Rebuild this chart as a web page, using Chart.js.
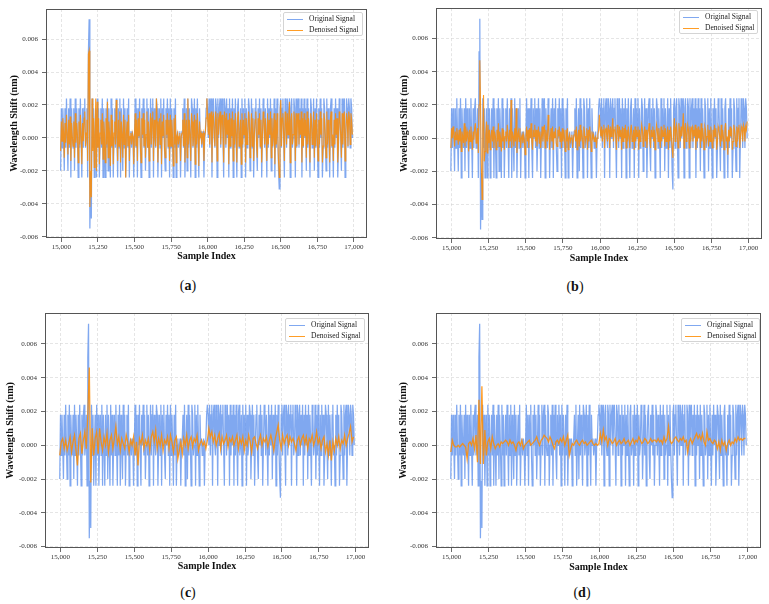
<!DOCTYPE html>
<html><head><meta charset="utf-8">
<script src="https://cdn.jsdelivr.net/npm/chart.js@4/dist/chart.umd.min.js"></script>
<style>
body{margin:0;background:#fff;width:769px;height:604px;position:relative;overflow:hidden;font-family:"Liberation Serif","DejaVu Serif",serif}
canvas{position:absolute}
.legend{position:absolute;box-sizing:border-box;background:rgba(255,255,255,0.85);border:1px solid #d4d4d4;border-radius:2px;font-size:7.5px;color:#222;padding:0 3px;line-height:11px;white-space:nowrap}
.legend .sw{display:inline-block;width:16px;height:0;border-top:1.2px solid;vertical-align:middle;margin-right:6px}
.cap{position:absolute;font-size:14px;line-height:16px;transform:translateX(-50%);color:#111}
</style></head><body>
<script>
// ---- data (values in units of 1e-4 nm) ----
const sampleStart = 14995;
const fineStep = 5;
const coarseStep = 10;
const seriesNames = ['Original Signal', 'Denoised Signal'];
const panelLabels = ['a', 'b', 'c', 'd'];
const xTickValues = [15000, 15250, 15500, 15750, 16000, 16250, 16500, 16750, 17000];
const yTickValues = [-0.006, -0.004, -0.002, 0, 0.002, 0.004, 0.006];

const originalSignal = [
-20,18,-6,18,0,-20,18,-6,24,0,-20,18,-6,24,-24,18,0,-6,18,-20,24,-6,18,0,-24,
18,-6,24,0,-24,18,-6,18,24,-6,0,18,-24,52,72,-55,-21,-49,24,-6,18,-24,0,18,-24,
24,-6,18,-24,0,18,-6,24,-24,18,0,-24,18,-6,24,-20,18,0,-24,24,-6,18,-24,0,18,
-6,24,0,-24,18,-6,24,-24,18,0,-20,24,-6,18,-24,0,18,-6,24,-24,0,4,-6,4,0,
-24,0,24,-6,18,-24,18,0,24,-6,-24,18,0,24,-6,18,-20,0,24,-6,18,-24,0,24,-6,
18,24,-24,18,0,-6,24,18,-24,0,18,-6,24,-24,18,0,24,-6,-20,18,0,24,-6,18,-24,
24,-6,18,0,-24,18,-6,24,-24,0,4,-6,0,4,-24,0,4,18,-6,24,-24,0,18,-20,24,
-6,18,0,-24,24,18,-6,0,24,-24,18,-6,24,0,-24,18,0,4,-6,0,4,-24,0,4,18,
24,18,0,24,-6,18,24,-24,18,24,0,-6,24,18,-24,24,0,18,24,-6,18,24,0,-24,24,
18,-6,24,0,18,-24,24,-6,18,0,24,-24,18,-6,24,0,-24,18,24,-6,0,18,-24,24,-6,
18,0,24,-24,18,-6,0,24,18,-20,0,24,-6,18,-24,0,18,24,-6,-20,18,0,24,-6,18,
-24,0,24,18,-6,18,0,-24,24,-6,18,0,24,-20,18,-6,0,24,-24,18,-6,24,0,-20,-31,
18,24,-6,18,24,0,-24,24,18,-6,24,0,18,24,-24,18,24,-6,0,24,18,-24,24,-6,18,
24,-6,18,0,24,-24,18,-6,24,0,18,-20,24,-6,18,0,-24,24,18,-6,0,24,-20,18,-6,
24,0,-24,18,-6,24,0,18,-24,-6,24,18,0,-20,24,-6,18,0,-24,18,24,-6,0,-24,18,
-6,24,0,18,-24,-6,24,18,0,-20,24,-6,18,24,-24,0,24,18,-6,24,18,-6,24,18,0
];

const denoisedA = [
-8,10,-2,12,4,-12,9,-3,14,2,-10,11,-4,13,-14,9,1,-5,10,-12,15,-3,9,2,-15,
10,-4,14,1,-16,9,-2,12,16,-5,3,11,-14,51,53,-42,-20,-36,24,-8,12,-18,2,24,-20,
22,-6,12,-16,3,11,-4,15,-13,10,2,-15,12,-4,22,-12,10,1,-17,14,-5,11,-16,3,10,
-4,23,2,-14,11,-5,16,-15,10,2,-12,14,-4,11,-24,3,10,-5,14,-14,1,3,-4,3,1,
-16,2,15,-5,11,-14,12,1,16,-4,-15,12,2,15,-5,11,-12,2,16,-6,10,-14,3,15,-4,
12,16,-14,11,2,-5,24,10,-15,2,12,-4,15,-16,10,1,14,-6,-12,11,2,15,-5,11,-14,
14,-5,11,1,-17,12,-4,14,-15,1,3,-4,1,3,-14,1,3,11,-5,15,-15,2,11,-12,24,
-4,11,2,-14,15,10,-5,2,14,-16,11,-4,15,2,-17,10,1,3,-4,1,3,-14,1,4,12,
24,12,2,15,-4,11,16,-15,12,14,2,-5,16,11,-14,15,2,12,16,-4,11,14,2,-15,16,
12,-4,15,2,11,-16,15,-5,12,1,16,-14,11,-4,15,2,-15,12,16,-5,1,11,-16,15,-4,
11,2,15,-15,12,-4,1,16,11,-12,2,15,-5,12,-14,2,11,16,-4,-12,12,2,15,-5,11,
-15,2,16,11,-4,12,1,-14,15,-4,11,2,16,-12,12,-5,1,15,-16,11,-4,15,2,-14,-24,
11,23,-5,12,15,2,-14,16,11,-4,15,2,12,22,-15,11,15,-4,2,16,11,-14,15,-5,12,
15,-4,11,2,16,-15,12,-5,15,1,11,-12,16,-4,12,2,-15,15,11,-4,2,16,-12,11,-5,
15,2,-14,11,-4,16,2,12,-15,-5,15,11,2,-12,16,-4,11,2,-15,12,16,-5,2,-14,11,
-4,15,2,12,-15,-4,16,11,2,-12,15,-4,12,16,-14,2,15,11,-5,16,12,-4,15,11,2
];

const denoisedB = [
-6,6,0,7,2,-5,4,-1,6,2,-4,5,-2,6,-8,4,1,-3,9,-5,7,-2,4,1,-8,
5,-2,7,0,-7,4,-1,6,9,-3,2,6,-9,20,47,20,-15,-37,5,26,-14,-8,2,10,-9,
8,-3,5,-7,1,5,-2,7,-6,4,1,-7,5,-2,9,-5,4,0,-8,6,-2,5,-7,1,4,
-2,8,1,-6,5,-2,23,-6,4,1,-5,6,-2,18,-9,1,4,-2,6,-6,0,2,-3,2,-1,
-10,1,7,-2,5,-6,6,0,9,-2,-7,5,1,8,-2,5,-5,1,7,-3,4,-6,1,7,-2,
5,8,-6,5,1,-2,14,4,-7,1,6,-2,7,-7,4,0,6,-3,-5,5,1,7,-2,4,-6,
6,-2,5,0,-8,5,-2,6,-7,0,2,-2,0,2,-6,0,2,5,-2,7,-7,1,5,-5,8,
-2,5,1,-6,7,4,-2,1,6,-7,5,-2,7,1,-8,4,0,2,-2,0,1,-6,0,2,5,
14,5,1,7,-2,5,8,-6,5,6,1,-2,8,5,-6,7,1,5,12,-2,5,7,1,-7,8,
5,-2,7,1,5,-7,7,-2,6,0,8,-6,5,-2,7,1,-6,5,8,-2,0,5,-7,7,-2,
5,1,7,-7,5,-2,0,8,5,-5,1,7,-2,5,-6,1,5,9,-2,-6,5,1,7,-2,5,
-7,1,8,5,-2,6,0,-6,7,-2,5,1,8,-5,6,-2,0,7,-7,5,-2,7,1,-6,-12,
5,12,-2,6,8,1,-6,9,5,-2,7,1,6,15,-6,5,9,-2,1,8,5,-6,7,-2,6,
7,-2,5,1,8,-7,6,-2,7,0,5,-6,9,-2,6,1,-7,7,5,-2,1,8,-5,5,-2,
7,1,-6,5,-2,8,1,6,-7,-2,7,5,1,-5,8,-2,5,1,-7,6,9,-2,1,-10,5,
-2,7,1,6,-7,-2,8,5,1,-5,7,-2,6,8,-6,1,7,5,-2,8,6,-2,7,5,10
];

const denoisedC = [
-6,2,4,-2,3,-3,1,5,-4,2,6,-3,-12,4,7,-5,3,8,-2,18,
46,-22,10,-6,4,8,-5,10,2,-3,5,0,7,-4,3,6,-2,4,11,1,
5,-3,4,1,-2,6,2,-4,3,0,5,-6,2,-12,4,1,6,-2,3,0,
4,-3,5,8,2,9,-2,4,0,6,-3,3,1,5,-2,6,2,-4,3,5,
-8,-3,2,-5,4,0,6,-2,3,5,-1,4,2,6,-3,1,3,0,2,-2,
3,10,5,8,2,6,0,4,7,-2,5,1,3,6,-1,4,2,5,0,3,
6,-2,4,1,5,-3,3,0,6,2,-4,4,5,1,-2,3,6,0,4,2,
5,-1,3,6,2,-3,4,8,12,3,-2,6,1,4,6,0,5,2,4,1,
-3,3,5,0,4,6,1,5,-2,4,2,6,0,3,8,1,4,-2,3,5,
-4,1,-6,3,-9,2,-3,4,0,5,-2,3,1,6,0,4,7,11,2,5
];

const denoisedD = [
-4,3,0,-1,-1,0,-1,0,1,0,-1,-8,1,2,0,4,-2,6,-10,27,
-11,35,-11,9,-6,2,4,-2,5,1,-2,0,1,-1,2,1,2,3,2,0,
3,1,2,0,-3,1,2,0,3,-2,0,1,2,3,0,1,2,3,5,2,
0,3,4,6,5,4,2,5,3,0,-2,2,3,1,4,2,5,0,3,6,
-6,-2,1,0,2,3,1,0,2,3,1,2,0,1,2,3,1,0,1,0,
1,7,2,9,3,5,0,4,3,1,2,4,0,2,3,1,2,4,1,2,
3,0,2,4,1,3,2,5,3,1,2,4,3,1,2,4,2,3,3,2,
4,2,3,1,5,2,4,11,3,1,2,4,5,3,2,4,3,5,2,3,
-4,2,4,1,3,5,7,4,6,3,7,2,0,8,3,4,2,1,3,2,
-2,2,-3,3,0,2,-3,1,3,0,2,1,4,2,5,3,4,3,4,4
];

const denoisedSeries = [
  {values: denoisedA, step: fineStep},
  {values: denoisedB, step: fineStep},
  {values: denoisedC, step: coarseStep},
  {values: denoisedD, step: coarseStep}
];

// ---- layout (page pixels) ----
const panels = [
  {cx:0,   cy:0,   cw:384, ch:266, L:46,  R:367, T:9,   B:238, titleX:14,  leg:{x:283,y:12,w:80,h:24}, cap:{x:188,y:278}},
  {cx:384, cy:0,   cw:385, ch:268, L:436, R:762, T:6,   B:239, titleX:404, leg:{x:679,y:10,w:79,h:24}, cap:{x:575,y:279}},
  {cx:0,   cy:300, cw:384, ch:276, L:45,  R:369, T:313, B:548, titleX:10,  leg:{x:285,y:318,w:80,h:24}, cap:{x:188,y:585}},
  {cx:384, cy:300, cw:385, ch:277, L:436, R:761, T:313, B:548, titleX:403, leg:{x:681,y:318,w:79,h:24}, cap:{x:582,y:585}}
];
const blueColor = 'rgba(100,149,237,0.82)';
const orangeColor = 'rgba(255,140,0,0.85)';
const serif = '"Liberation Serif", "DejaVu Serif", serif';

const toPoints = (arr, step) => arr.map((v, i) => ({x: sampleStart + i * step, y: v / 1e4}));

const framePlugin = {
  id: 'frame',
  afterDraw(chart) {
    const {ctx, chartArea: a} = chart;
    ctx.save();
    ctx.strokeStyle = '#555';
    ctx.lineWidth = 1;
    ctx.setLineDash([]);
    ctx.strokeRect(Math.round(a.left) + 0.5, Math.round(a.top) + 0.5, Math.round(a.right - a.left) - 1, Math.round(a.bottom - a.top) - 1);
    ctx.restore();
  }
};

panels.forEach((p, k) => {
  const cv = document.createElement('canvas');
  cv.width = p.cw; cv.height = p.ch;
  cv.style.left = p.cx + 'px'; cv.style.top = p.cy + 'px';
  cv.style.width = p.cw + 'px'; cv.style.height = p.ch + 'px';
  document.body.appendChild(cv);

  const gridOpts = {color: 'rgba(205,205,205,0.75)', lineWidth: 0.7, tickLength: 4, tickColor: '#444', tickWidth: 0.8, tickBorderDash: []};
  new Chart(cv, {
    type: 'line',
    data: {
      datasets: [
        {label: seriesNames[0], data: toPoints(originalSignal, fineStep), borderColor: blueColor, borderWidth: 1.25, pointRadius: 0, tension: 0, order: 1},
        {label: seriesNames[1], data: toPoints(denoisedSeries[k].values, denoisedSeries[k].step), borderColor: orangeColor, borderWidth: k < 2 ? 1.1 : 1.3, pointRadius: 0, tension: 0, order: 0}
      ]
    },
    options: {
      responsive: false, animation: false, devicePixelRatio: 1,
      layout: {padding: {left: 0, top: p.T - p.cy, right: p.cx + p.cw - p.R, bottom: 0}},
      plugins: {legend: {display: false}, tooltip: {enabled: false}},
      scales: {
        x: {
          type: 'linear', min: 14895, max: 17090,
          afterBuildTicks: s => { s.ticks = xTickValues.map(v => ({value: v})); },
          afterFit: s => { s.height = p.cy + p.ch - p.B; },
          grid: gridOpts,
          border: {display: false, dash: [3, 2]},
          ticks: {padding: 1, maxRotation: 0, autoSkip: false, color: '#333', font: {family: serif, size: 7}, callback: v => v.toLocaleString('en-US')},
          title: {display: true, text: 'Sample Index', color: '#111', padding: {top: 0, bottom: 4}, font: {family: serif, size: 10, weight: 'bold'}}
        },
        y: {
          type: 'linear', min: -0.00608, max: 0.00783,
          afterBuildTicks: s => { s.ticks = yTickValues.map(v => ({value: v})); },
          afterFit: s => { s.width = p.L - p.cx; },
          grid: gridOpts,
          border: {display: false, dash: [3, 2]},
          ticks: {padding: 4, color: '#333', font: {family: serif, size: 7}, callback: v => Math.abs(v) < 1e-9 ? '0.000' : v.toFixed(3)},
          title: {display: true, text: 'Wavelength Shift (nm)', color: '#111', padding: {top: p.titleX - p.cx - 6, bottom: 0}, font: {family: serif, size: 10, weight: 'bold'}}
        }
      }
    },
    plugins: [framePlugin]
  });

  const lg = document.createElement('div');
  lg.className = 'legend';
  lg.style.left = p.leg.x + 'px'; lg.style.top = p.leg.y + 'px';
  lg.style.width = p.leg.w + 'px'; lg.style.height = p.leg.h + 'px';
  lg.innerHTML = '<div><span class="sw" style="border-color:' + blueColor + '"></span>' + seriesNames[0] + '</div>' +
                 '<div><span class="sw" style="border-color:' + orangeColor + '"></span>' + seriesNames[1] + '</div>';
  document.body.appendChild(lg);

  const cap = document.createElement('div');
  cap.className = 'cap';
  cap.style.left = p.cap.x + 'px'; cap.style.top = p.cap.y + 'px';
  cap.innerHTML = '(<b>' + panelLabels[k] + '</b>)';
  document.body.appendChild(cap);
});
</script>
</body></html>
